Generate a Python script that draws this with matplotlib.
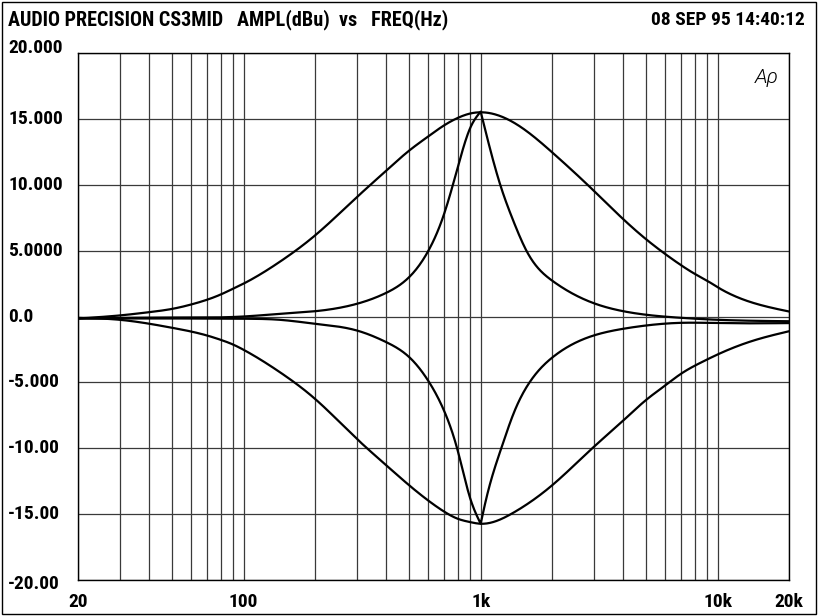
import numpy as np
import matplotlib
matplotlib.use('Agg')
import matplotlib.pyplot as plt
import matplotlib.transforms as mtrans
from matplotlib.patches import Rectangle

# frequencies (Hz) and levels (dBu)
wide_boost_f = [20, 30, 40, 50, 60, 70, 80, 90, 100, 142, 200, 300, 400, 500, 600, 700,
                800, 900, 1000, 1500, 2000, 3000, 4000, 5000, 6000, 7000, 8000, 9000, 10000, 20000]
wide_boost_db = [-0.15, 0.08, 0.33, 0.58, 0.91, 1.27, 1.67, 2.1, 2.5, 4.15, 6.15, 9.05, 11.08,
                 12.6, 13.66, 14.5, 15.07, 15.4, 15.5, 14.3, 12.47, 9.55, 7.38, 5.85, 4.75, 3.9,
                 3.24, 2.73, 2.22, 0.38]

narrow_boost_f = [20, 50, 100, 142, 200, 300, 400, 500, 600, 700, 800, 900, 1000, 1206,
                  1372, 1570, 2000, 3000, 4000, 5000, 7000, 10000, 20000]
narrow_boost_db = [-0.15, -0.08, 0.0, 0.2, 0.4, 0.96, 1.8, 3.0, 4.95, 7.75, 11.3, 14.24,
                   15.55, 10.07, 7.28, 4.9, 2.73, 1.01, 0.4, 0.13, -0.1, -0.25, -0.36]

narrow_cut_f = [20, 50, 100, 142, 200, 300, 400, 500, 600, 700, 800, 900, 1000, 1060, 1227,
                1374, 1615, 2013, 3000, 4000, 5000, 7000, 10000, 20000]
narrow_cut_db = [-0.15, -0.15, -0.17, -0.25, -0.55, -1.06, -1.95, -3.09, -4.86, -7.13, -10.17,
                 -13.71, -15.73, -13.7, -9.9, -7.4, -4.95, -3.09, -1.44, -0.93, -0.68, -0.48,
                 -0.5, -0.5]

wide_cut_f = [20, 30, 40, 50, 60, 70, 80, 90, 100, 142, 200, 300, 400, 500, 600, 700, 800,
              900, 1000, 1372, 2000, 3000, 4000, 5000, 6000, 7000, 8600, 10000, 14200, 20000]
wide_cut_db = [-0.1, -0.25, -0.55, -0.86, -1.14, -1.44, -1.77, -2.12, -2.53, -4.22, -6.25,
               -9.28, -11.3, -12.82, -13.96, -14.8, -15.35, -15.6, -15.73, -14.9, -12.82, -9.9,
               -7.89, -6.32, -5.24, -4.35, -3.45, -2.88, -1.82, -1.12]

y_ticks = [20, 15, 10, 5, 0, -5, -10, -15, -20]
y_labels = ['20.000', '15.000', '10.000', '5.0000', '0.0', '-5.000', '-10.00', '-15.00', '-20.00']
x_ticks = [20, 100, 1000, 10000, 20000]
x_labels = ['20', '100', '1k', '10k', '20k']
grid_f = [20, 30, 40, 50, 60, 70, 80, 90, 100, 200, 300, 400, 500, 600, 700, 800, 900,
          1000, 2000, 3000, 4000, 5000, 6000, 7000, 8000, 9000, 10000, 20000]

plt.rcParams['font.family'] = ['Roboto Condensed', 'DejaVu Sans']


def spline(x, y, xs):
    # natural cubic spline through the read points
    n = len(x)
    h = np.diff(x)
    A = np.zeros((n, n))
    r = np.zeros(n)
    A[0, 0] = A[-1, -1] = 1
    for i in range(1, n - 1):
        A[i, i - 1] = h[i - 1]
        A[i, i] = 2 * (h[i - 1] + h[i])
        A[i, i + 1] = h[i]
        r[i] = 6 * ((y[i + 1] - y[i]) / h[i] - (y[i] - y[i - 1]) / h[i - 1])
    M = np.linalg.solve(A, r)
    idx = np.clip(np.searchsorted(x, xs) - 1, 0, n - 2)
    a = x[idx + 1] - xs
    b = xs - x[idx]
    hh = h[idx]
    return (M[idx] * a**3 + M[idx + 1] * b**3) / (6 * hh) + \
        (y[idx] / hh - M[idx] * hh / 6) * a + (y[idx + 1] / hh - M[idx + 1] * hh / 6) * b


def curve(f, db, split):
    lf = np.log10(np.array(f, float))
    db = np.array(db, float)
    if not split:
        xs = np.linspace(lf[0], lf[-1], 900)
        return 10 ** xs, spline(lf, db, xs)
    k = int(np.argmax(np.abs(db)))
    xa = np.linspace(lf[0], lf[k], 500)
    xb = np.linspace(lf[k], lf[-1], 500)
    ya = spline(lf[:k + 1], db[:k + 1], xa)
    yb = spline(lf[k:], db[k:], xb)
    return 10 ** np.r_[xa, xb], np.r_[ya, yb]


fig = plt.figure(figsize=(8.18, 6.16), dpi=100)
ax = fig.add_axes([78 / 818, 1 - 580 / 616, 711 / 818, 527 / 616])

for f, db, sp in [(wide_boost_f, wide_boost_db, False), (narrow_boost_f, narrow_boost_db, True),
                  (narrow_cut_f, narrow_cut_db, True), (wide_cut_f, wide_cut_db, False)]:
    xs, ys = curve(f, db, sp)
    ax.plot(xs, ys, color='black', lw=1.6, zorder=3)

ax.set_xscale('log')
ax.set_xlim(20, 20000)
ax.set_ylim(-20, 20)
for g in grid_f:
    ax.axvline(g, color='#3a3a3a', lw=0.9, zorder=1)
for t in y_ticks:
    ax.axhline(t, color='#3a3a3a', lw=0.9, zorder=1)
ax.set_xticks([])
ax.set_yticks([])
ax.minorticks_off()
for s in ax.spines.values():
    s.set_linewidth(1.0)

bold = dict(fontsize=14, fontweight='bold', color='black')
ytr = mtrans.blended_transform_factory(fig.transFigure, ax.transData)
for t, lab in zip(y_ticks, y_labels):
    dy = {20: 0.4, -20: -0.3}.get(t, 0)
    ax.text(8 / 818, t + dy, lab, transform=ytr, ha='left', va='center', **bold)
xtr = mtrans.blended_transform_factory(ax.transData, fig.transFigure)
for t, lab in zip(x_ticks, x_labels):
    ax.text(t, 1 - 602 / 616, lab, transform=xtr, ha='center', va='center', **bold)

fig.text(8 / 818, 1 - 20 / 616, 'AUDIO PRECISION CS3MID   AMPL(dBu)  vs   FREQ(Hz)',
         ha='left', va='center', fontsize=14.5, fontweight='bold', color='black')
fig.text(805 / 818, 1 - 20 / 616, '08 SEP 95 14:40:12', ha='right', va='center', **bold)
ax.text(0.985, 0.972, 'Aρ', transform=ax.transAxes, ha='right', va='top',
        fontsize=15, fontstyle='italic', fontweight=300, family='Roboto', color='black')

fig.patches.append(Rectangle((2 / 818, 2 / 616), 814 / 818, 612 / 616, fill=False,
                             edgecolor='black', lw=1.0, transform=fig.transFigure))

fig.savefig('out.png', dpi=100)
